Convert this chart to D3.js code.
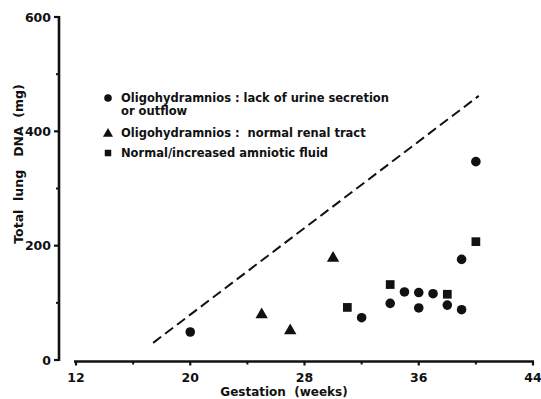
<!DOCTYPE html>
<html>
<head>
<meta charset="utf-8">
<script src="https://cdn.jsdelivr.net/npm/d3@7"></script>
<style>
  body { margin: 0; background: #fff; }
  text { font-family: "DejaVu Sans", sans-serif; font-weight: bold; fill: #111; }
</style>
</head>
<body>
<script>
// data
const urineLack = [[20, 49], [32, 74], [34, 99], [35, 119], [36, 118], [36, 91],
  [37, 116], [38, 96], [39, 176], [39, 88], [40, 347]];
const normalRenal = [[25, 81], [27, 53], [30, 180]];
const normalFluid = [[31, 92], [34, 132], [38, 115], [40, 207]];
const dashedLine = [[17.4, 30], [40.2, 462]];

const xMajor = [12, 20, 28, 36, 44];
const xMinor = [16, 24, 32, 40];
const yMajor = [0, 200, 400, 600];
const yMinor = [100, 300, 500];

const legendItems = [
  {shape: "circle", lines: ["Oligohydramnios : lack of urine secretion", "or outflow"]},
  {shape: "triangle", lines: ["Oligohydramnios :  normal renal tract"]},
  {shape: "square", lines: ["Normal/increased amniotic fluid"]}
];

document.addEventListener("DOMContentLoaded", function() {
    const width = 541, height = 399;
    const svg = d3.select("body").append("svg")
        .attr("width", width)
        .attr("height", height);

    const x = d3.scaleLinear().domain([12, 44]).range([76, 533]);
    const y = d3.scaleLinear().domain([0, 600]).range([360, 17]);

    // y axis
    svg.append("line")
        .attr("x1", 59).attr("x2", 59)
        .attr("y1", y(600) - 1).attr("y2", y(0) + 1)
        .attr("stroke", "#111").attr("stroke-width", 2.6);
    svg.selectAll(".ytick").data(yMajor).join("line")
        .attr("x1", 54).attr("x2", 59)
        .attr("y1", d => y(d)).attr("y2", d => y(d))
        .attr("stroke", "#111").attr("stroke-width", 2.2);
    svg.selectAll(".yminor").data(yMinor).join("line")
        .attr("x1", 56).attr("x2", 59)
        .attr("y1", d => y(d)).attr("y2", d => y(d))
        .attr("stroke", "#111").attr("stroke-width", 2);
    svg.selectAll(".ylab").data(yMajor).join("text")
        .attr("x", 51).attr("y", d => y(d) + 4.5)
        .attr("text-anchor", "end")
        .style("font-size", "12.5px")
        .text(d => d);

    // x axis
    const xAxisY = 361.5;
    svg.append("line")
        .attr("x1", x(12) - 2).attr("x2", x(44) + 1)
        .attr("y1", xAxisY).attr("y2", xAxisY)
        .attr("stroke", "#111").attr("stroke-width", 2.6);
    svg.selectAll(".xtick").data(xMajor).join("line")
        .attr("x1", d => x(d)).attr("x2", d => x(d))
        .attr("y1", xAxisY).attr("y2", xAxisY + 4)
        .attr("stroke", "#111").attr("stroke-width", 2.2);
    svg.selectAll(".xminor").data(xMinor).join("line")
        .attr("x1", d => x(d)).attr("x2", d => x(d))
        .attr("y1", xAxisY).attr("y2", xAxisY + 3)
        .attr("stroke", "#111").attr("stroke-width", 2);
    svg.selectAll(".xlab").data(xMajor).join("text")
        .attr("x", d => x(d)).attr("y", 382)
        .attr("text-anchor", "middle")
        .style("font-size", "12.5px")
        .text(d => d);

    // axis titles
    svg.append("text")
        .attr("x", 284).attr("y", 396)
        .attr("text-anchor", "middle")
        .style("font-size", "12px")
        .style("white-space", "pre")
        .text("Gestation  (weeks)");
    svg.append("text")
        .attr("transform", "translate(23,164) rotate(-90)")
        .attr("text-anchor", "middle")
        .style("font-size", "12.5px")
        .style("white-space", "pre")
        .text("Total  lung   DNA  (mg)");

    // dashed reference line
    svg.append("path")
        .attr("d", d3.line().x(d => x(d[0])).y(d => y(d[1]))(dashedLine))
        .attr("fill", "none")
        .attr("stroke", "#111")
        .attr("stroke-width", 2)
        .attr("stroke-dasharray", "10,5");

    const tri = d3.symbol().type(d3.symbolTriangle).size(66);
    const sq = d3.symbol().type(d3.symbolSquare).size(76);

    // points
    svg.selectAll(".pc").data(urineLack).join("circle")
        .attr("cx", d => x(d[0])).attr("cy", d => y(d[1]))
        .attr("r", 4.8).attr("fill", "#111");
    svg.selectAll(".pt").data(normalRenal).join("path")
        .attr("d", tri)
        .attr("transform", d => `translate(${x(d[0])},${y(d[1]) + 1})`)
        .attr("fill", "#111");
    svg.selectAll(".ps").data(normalFluid).join("path")
        .attr("d", sq)
        .attr("transform", d => `translate(${x(d[0])},${y(d[1])})`)
        .attr("fill", "#111");

    // legend
    const rowY = [98, 133, 153];
    const leg = svg.append("g");
    legendItems.forEach((item, i) => {
        const cy = rowY[i];
        if (item.shape === "circle") {
            leg.append("circle").attr("cx", 108).attr("cy", cy).attr("r", 3.8).attr("fill", "#111");
        } else {
            leg.append("path")
                .attr("d", d3.symbol().type(item.shape === "triangle" ? d3.symbolTriangle : d3.symbolSquare)
                    .size(item.shape === "triangle" ? 44 : 42))
                .attr("transform", `translate(108,${cy + (item.shape === "triangle" ? 0.8 : 0)})`)
                .attr("fill", "#111");
        }
        item.lines.forEach((t, j) => {
            leg.append("text")
                .attr("x", 121).attr("y", cy + 3.5 + j * 13.5)
                .style("font-size", "11.5px")
                .style("white-space", "pre")
                .text(t);
        });
    });
});
</script>
</body>
</html>
